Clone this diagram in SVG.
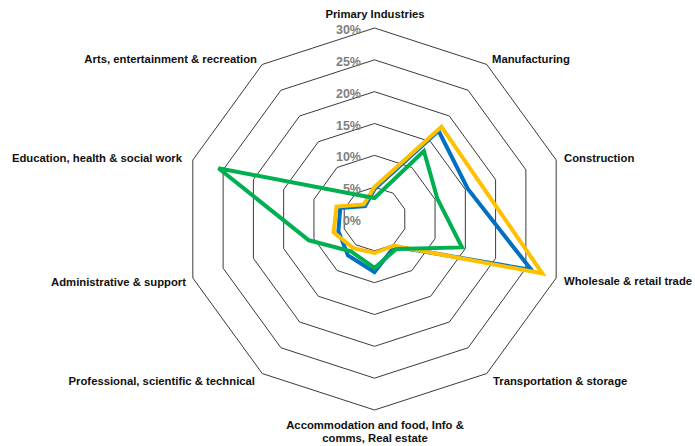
<svg xmlns="http://www.w3.org/2000/svg" width="695" height="446" viewBox="0 0 695 446">
<style>
.ring{fill:none;stroke:#3a3a3a;stroke-width:1}
.tick{font-family:"Liberation Sans",Arial,sans-serif;font-size:12.5px;font-weight:bold;fill:#808080;text-anchor:end}
.lbl{font-family:"Liberation Sans",Arial,sans-serif;font-size:11.3px;font-weight:bold;fill:#111}
.s{fill:none;stroke-width:4;stroke-linejoin:miter}
</style>
<rect width="695" height="446" fill="#fff"/>
<g id="grid">
<polygon class="ring" points="374.5,28 486.77,64.48 556.16,159.98 556.16,278.02 486.77,373.52 374.5,410 262.23,373.52 192.84,278.02 192.84,159.98 262.23,64.48"/>
<polygon class="ring" points="374.5,59.83 468.06,90.23 525.88,169.82 525.88,268.18 468.06,347.77 374.5,378.17 280.94,347.77 223.12,268.18 223.12,169.82 280.94,90.23"/>
<polygon class="ring" points="374.5,91.67 449.35,115.99 495.6,179.65 495.6,258.35 449.35,322.01 374.5,346.33 299.65,322.01 253.4,258.35 253.4,179.65 299.65,115.99"/>
<polygon class="ring" points="374.5,123.5 430.63,141.74 465.33,189.49 465.33,248.51 430.63,296.26 374.5,314.5 318.37,296.26 283.67,248.51 283.67,189.49 318.37,141.74"/>
<polygon class="ring" points="374.5,155.33 411.92,167.49 435.05,199.33 435.05,238.67 411.92,270.51 374.5,282.67 337.08,270.51 313.95,238.67 313.95,199.33 337.08,167.49"/>
<polygon class="ring" points="374.5,187.17 393.21,193.25 404.77,209.16 404.77,228.84 393.21,244.75 374.5,250.83 355.79,244.75 344.23,228.84 344.23,209.16 355.79,193.25"/>
</g>
<g id="ticks">
<text class="tick" x="361" y="34">30%</text>
<text class="tick" x="361" y="66">25%</text>
<text class="tick" x="361" y="97.5">20%</text>
<text class="tick" x="361" y="129.5">15%</text>
<text class="tick" x="361" y="161">10%</text>
<text class="tick" x="361" y="193">5%</text>
<text class="tick" x="361" y="225">0%</text>
</g>
<g id="connectors">
<polygon id="series-blue" class="s" stroke="#0070C0" points="374.5,189 438.6,130.8 467.7,188.7 531.4,270 394.5,246.5 374.5,272 348,255.4 338.4,231.2 340.3,207.9 365.1,206"/>
<polygon id="series-yellow" class="s" stroke="#FFC000" points="374.5,187 441.5,126.8 481,184.4 542.4,273.5 393.9,245.7 374.5,253 353.3,248.1 333.6,232.3 336.5,206.6 363.9,204.4"/>
<polygon id="series-green" class="s" stroke="#00B050" points="374.5,198 423.9,151 437.3,198.6 462,247.4 396.3,248.9 374.5,268 351,251.4 308.9,240.3 218.5,168.3 356.9,194.7"/>
</g>
<g id="node-primary"><text class="lbl" x="375" y="18" text-anchor="middle">Primary Industries</text></g>
<g id="node-manufacturing"><text class="lbl" x="492" y="63">Manufacturing</text></g>
<g id="node-construction"><text class="lbl" x="564" y="162">Construction</text></g>
<g id="node-wholesale"><text class="lbl" x="564" y="285">Wholesale &amp; retail trade</text></g>
<g id="node-transport"><text class="lbl" x="493" y="385">Transportation &amp; storage</text></g>
<g id="node-accommodation"><text class="lbl" x="375" y="429" text-anchor="middle">Accommodation and food, Info &amp;</text><text class="lbl" x="375" y="442" text-anchor="middle">comms, Real estate</text></g>
<g id="node-professional"><text class="lbl" x="255" y="385" text-anchor="end">Professional, scientific &amp; technical</text></g>
<g id="node-admin"><text class="lbl" x="186" y="286" text-anchor="end">Administrative &amp; support</text></g>
<g id="node-education"><text class="lbl" x="182" y="162" text-anchor="end">Education, health &amp; social work</text></g>
<g id="node-arts"><text class="lbl" x="257" y="63" text-anchor="end">Arts, entertainment &amp; recreation</text></g>
</svg>
